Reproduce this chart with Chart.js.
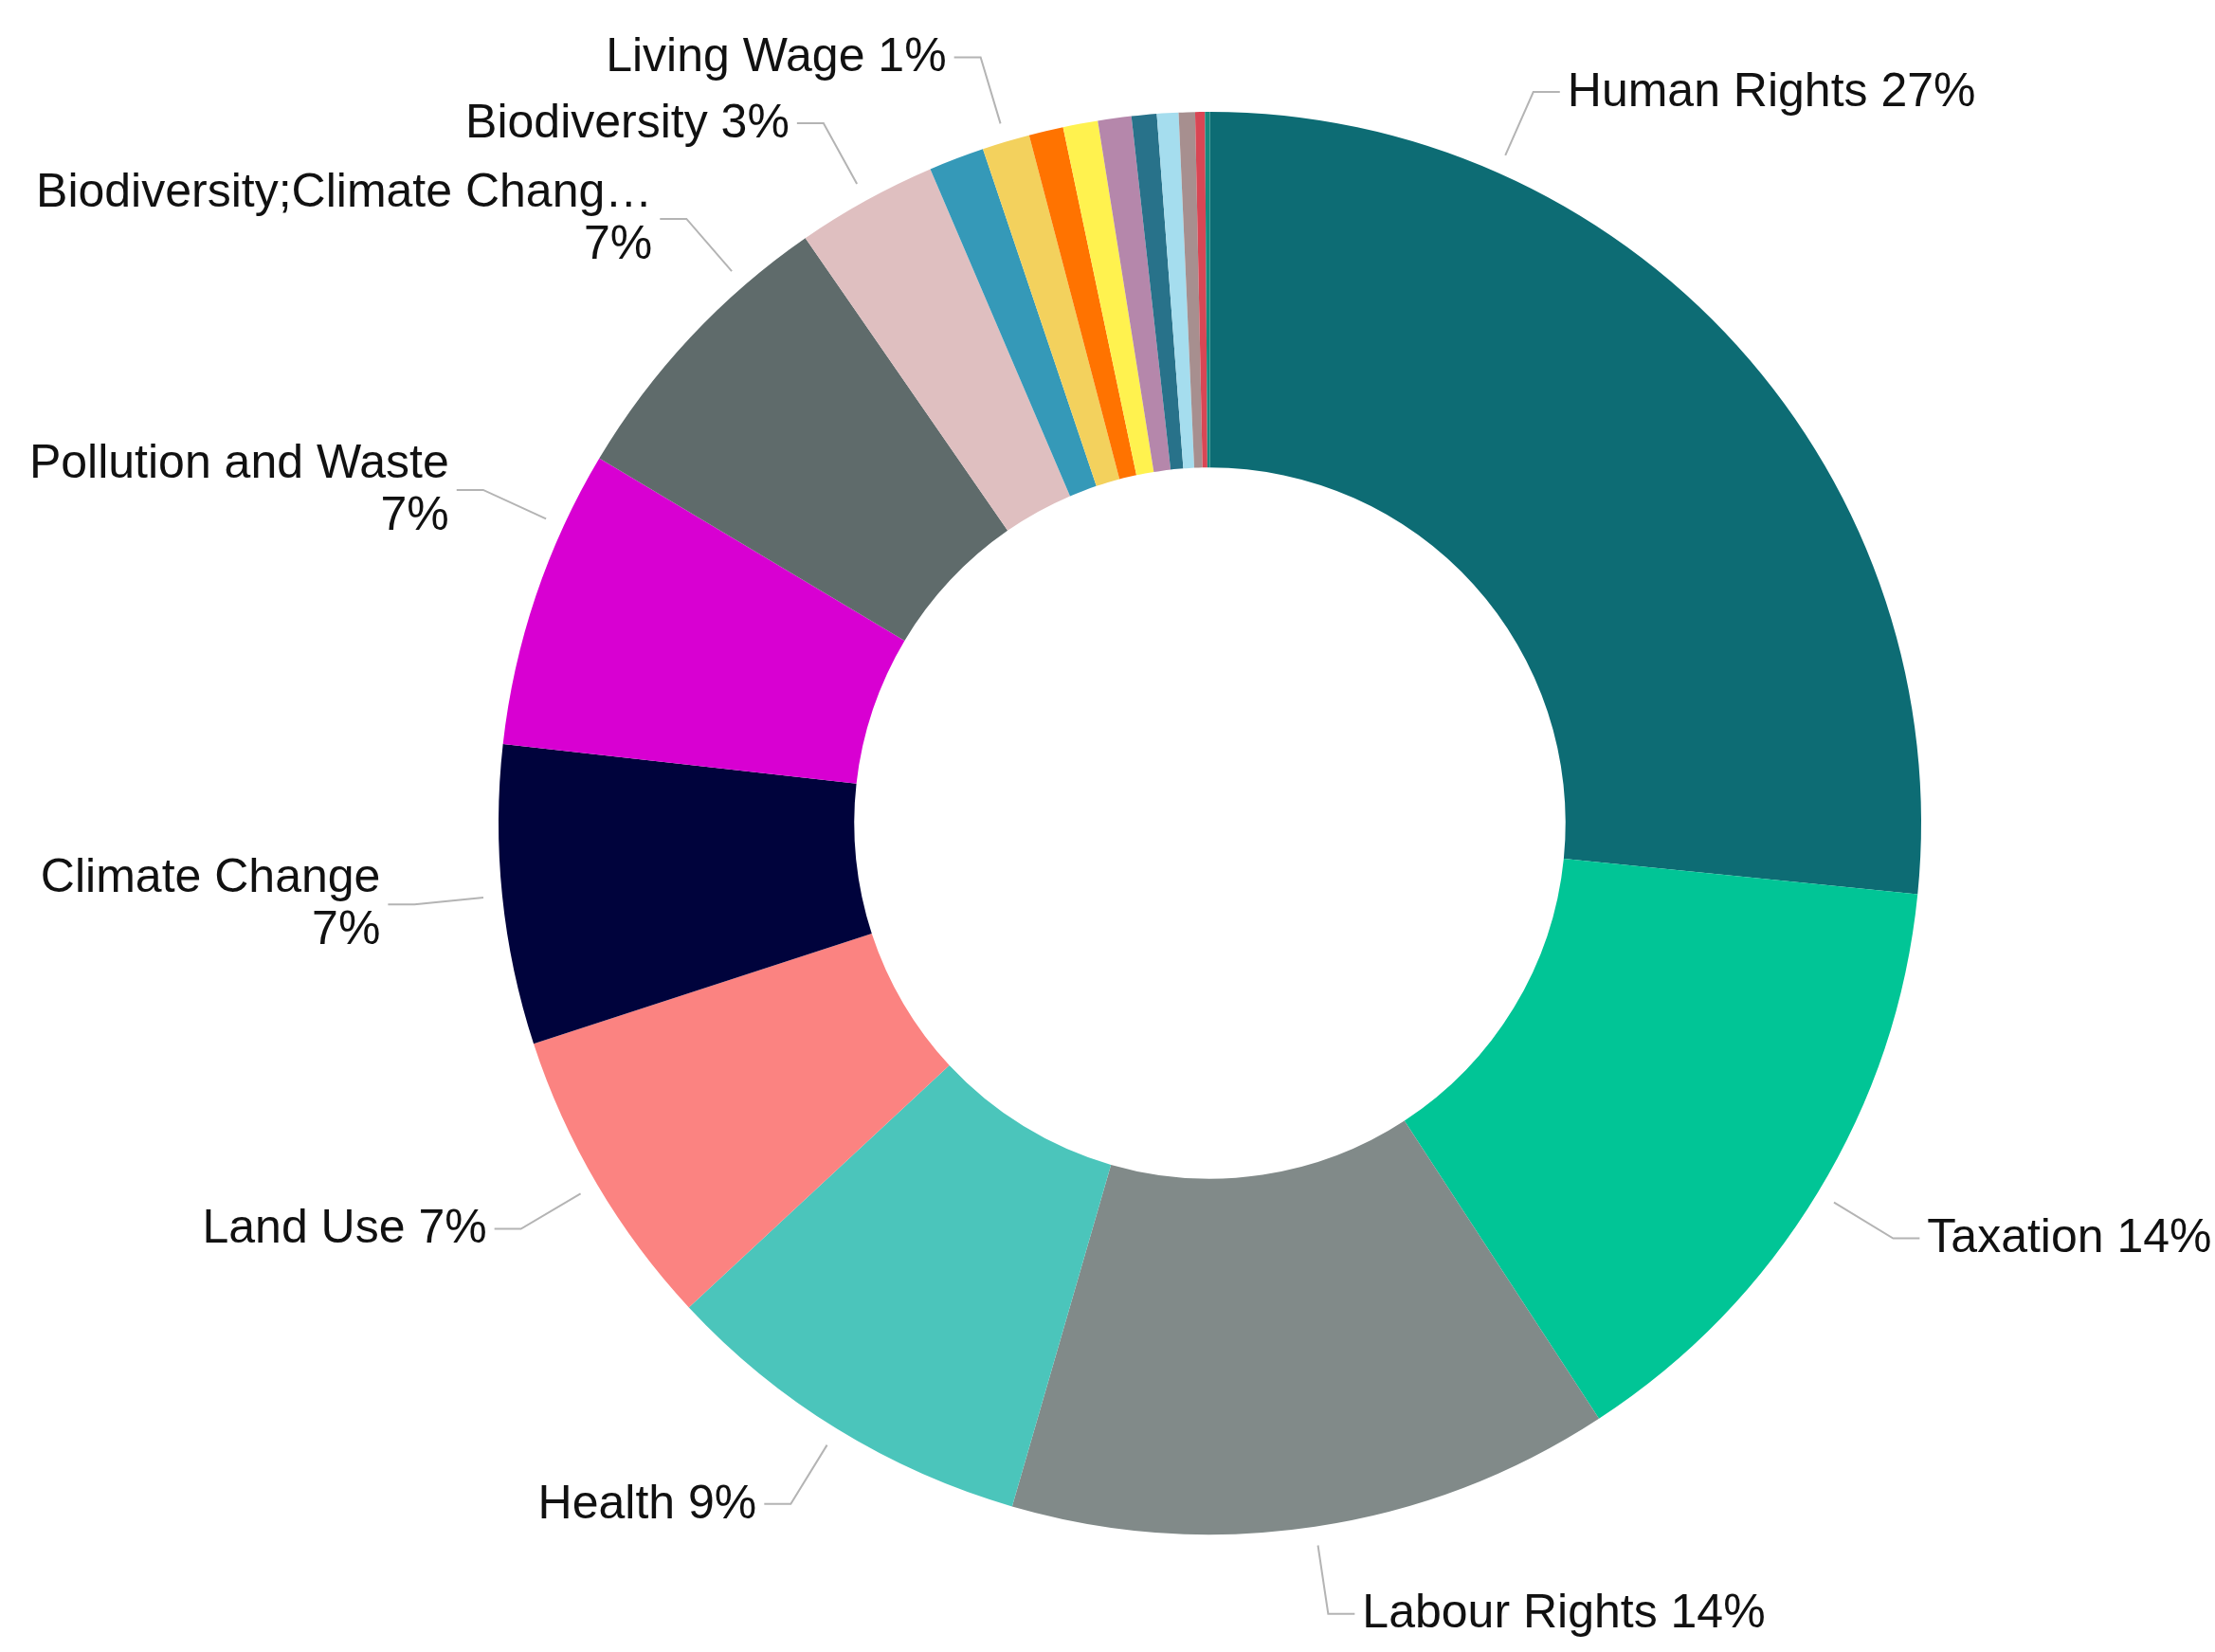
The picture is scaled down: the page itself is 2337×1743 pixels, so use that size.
<!DOCTYPE html>
<html>

<head>
  <title>Topics</title>
  <meta charset="utf-8">
  <script src="https://cdn.jsdelivr.net/npm/chart.js@4.4.1/dist/chart.umd.min.js"></script>
  <style>
    body { margin: 0; background: #fff; }
    .container { width: 2337px; height: 1743px; }
  </style>
</head>

<body>
  <div class="container">
    <canvas id="donut-chart"></canvas>
  </div>

  <script>
    // topic shares, clockwise from 12 o'clock
    var topics = ["Human Rights", "Taxation", "Labour Rights", "Health", "Land Use",
      "Climate Change", "Pollution and Waste", "Biodiversity;Climate Change", "Biodiversity",
      "Other 1", "Living Wage", "Other 2", "Other 3", "Other 4", "Other 5", "Other 6",
      "Other 7", "Other 8", "Other 9"]
    var shares = [26.6, 14.2, 13.7, 8.6, 6.9, 6.8, 6.8, 6.8, 3.2,
      1.26, 1.08, 0.78, 0.79, 0.76, 0.57, 0.49, 0.37, 0.22, 0.11]
    var colours = ["#0d6c74", "#01c596", "#818a89", "#4bc5bb", "#fb8381", "#00033c",
      "#d800d2", "#5f6b6b", "#dfbfc0", "#3599b8", "#f3d15d", "#ff7300", "#fff24f",
      "#b587ab", "#28728a", "#a5ddee", "#a78f8f", "#d94654", "#16897f"]
    // only these get a label, the rest are too thin
    var labelled = ["Human Rights", "Taxation", "Labour Rights", "Health", "Land Use",
      "Climate Change", "Pollution and Waste", "Biodiversity;Climate Change",
      "Biodiversity", "Living Wage"]

    // outside labels with a bent leader line
    var sliceLabels = {
      id: 'sliceLabels',
      afterDatasetsDraw: function (chart, args, opts) {
        var ctx = chart.ctx
        var meta = chart.getDatasetMeta(0)
        var data = chart.data.datasets[0].data
        var total = data.reduce(function (a, b) { return a + b }, 0)
        ctx.save()
        ctx.font = opts.font
        ctx.textBaseline = 'middle'
        meta.data.forEach(function (arc, i) {
          var name = chart.data.labels[i]
          if (opts.show.indexOf(name) < 0) return
          var p = arc.getProps(['x', 'y', 'startAngle', 'endAngle', 'outerRadius'], true)
          var a = (p.startAngle + p.endAngle) / 2 + (opts.shift[name] || 0) * Math.PI / 180
          var c = Math.cos(a), s = Math.sin(a)
          var r0 = p.outerRadius + 20, r1 = p.outerRadius + 93
          var x1 = p.x + r1 * c, y1 = p.y + r1 * s
          var dir = c >= 0 ? 1 : -1
          var x2 = x1 + dir * 28

          ctx.strokeStyle = '#b4b4b4'
          ctx.lineWidth = 2
          ctx.beginPath()
          ctx.moveTo(p.x + r0 * c, p.y + r0 * s)
          ctx.lineTo(x1, y1)
          ctx.lineTo(x2, y1)
          ctx.stroke()

          var text = name.length > 26 ? name.slice(0, 26) + '\u2026' : name
          var pct = Math.round(data[i] / total * 100) + '%'
          var tx = x2 + dir * 8
          ctx.fillStyle = '#111'
          ctx.textAlign = dir > 0 ? 'left' : 'right'
          var w = ctx.measureText(text + ' ' + pct).width
          var fits = dir > 0 ? tx + w <= chart.width + 10 : tx - w >= 0
          if (fits) {
            ctx.fillText(text + ' ' + pct, tx, y1 + 1)
          } else {
            ctx.fillText(text, tx, y1 - 27)
            ctx.fillText(pct, tx, y1 + 28)
          }
        })
        ctx.restore()
      }
    }

    new Chart(document.getElementById("donut-chart"), {
      type: 'doughnut',
      data: {
        labels: topics,
        datasets: [{
          data: shares,
          backgroundColor: colours,
          borderWidth: 0
        }]
      },
      options: {
        responsive: true,
        maintainAspectRatio: false,
        animation: false,
        cutout: '50%',
        layout: { padding: { left: 526, right: 310, top: 118, bottom: 124 } },
        plugins: {
          legend: { display: false },
          tooltip: { enabled: false },
          sliceLabels: {
            show: labelled,
            font: '50px "Liberation Sans", Arial, sans-serif',
            shift: { "Human Rights": -24, "Pollution and Waste": 6, "Biodiversity;Climate Change": 6 }
          }
        }
      },
      plugins: [sliceLabels]
    });
  </script>
</body>

</html>
